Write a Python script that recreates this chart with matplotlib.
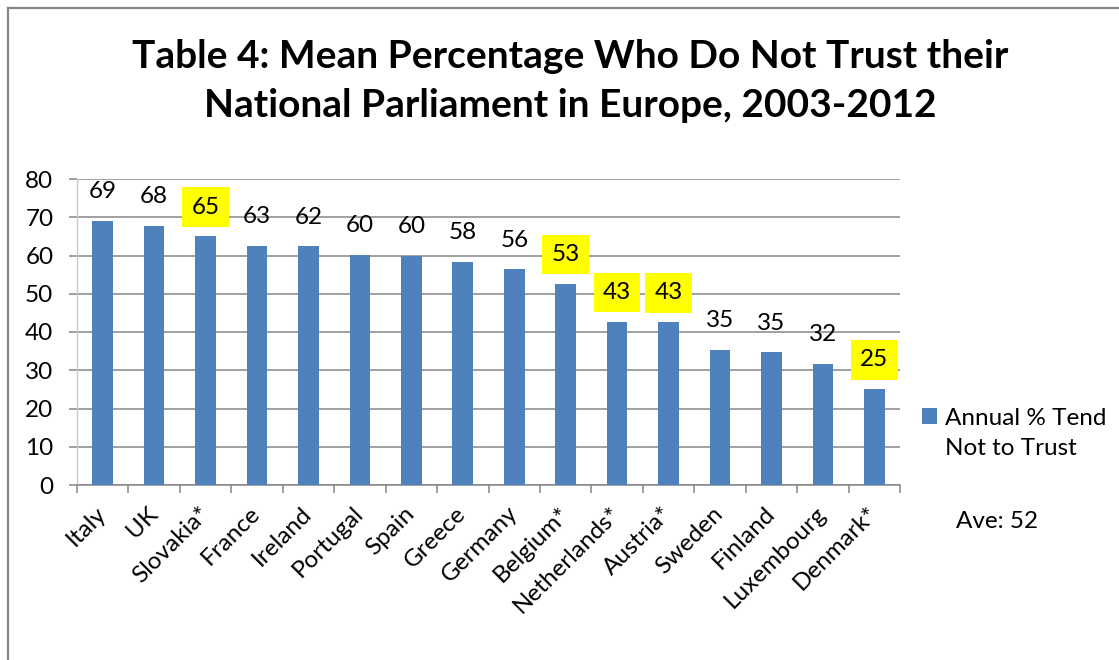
import matplotlib.pyplot as plt
import numpy as np
from matplotlib.lines import Line2D

# Mean share (%) who tend not to trust their national parliament, 2003-2012
countries = ["Italy", "UK", "Slovakia*", "France", "Ireland", "Portugal", "Spain",
             "Greece", "Germany", "Belgium*", "Netherlands*", "Austria*", "Sweden",
             "Finland", "Luxembourg", "Denmark*"]
values = [69.1, 67.8, 65.0, 62.6, 62.4, 60.2, 59.9, 58.4, 56.4, 52.6,
          42.7, 42.6, 35.3, 34.7, 31.6, 25.1]
highlighted = ["Slovakia*", "Belgium*", "Netherlands*", "Austria*", "Denmark*"]
average_label = "Ave: 52"
series_name = "Annual % Tend\nNot to Trust"
yticks = [0, 10, 20, 30, 40, 50, 60, 70, 80]
title = ("Table 4: Mean Percentage Who Do Not Trust their\n"
         "National Parliament in Europe, 2003-2012")

plt.rcParams['font.family'] = ['Lato', 'DejaVu Sans']

W, H = 1119, 660
fig = plt.figure(figsize=(W / 100, H / 100), dpi=100)
fig.patch.set_facecolor('white')

FS = 17.5

# plot area in pixel terms
left, right, top, bottom = 77, 900, 179, 485
ax = fig.add_axes([left / W, 1 - bottom / H, (right - left) / W, (bottom - top) / H])

bar_color = '#4F81BD'
grid_color = '#868686'
x = np.arange(len(countries))
bars = ax.bar(x, values, width=0.4, color=bar_color, zorder=3,
              label=series_name)

ax.set_xlim(-0.5, len(countries) - 0.5)
ax.set_ylim(0, 80)
ax.set_yticks(yticks)
ax.yaxis.grid(True, color=grid_color, linewidth=1.1, zorder=0)
ax.set_axisbelow(True)

for side in ['top', 'right']:
    ax.spines[side].set_visible(False)
ax.spines['left'].set_color('#C8C8C8')
ax.spines['left'].set_linewidth(1.0)
ax.spines['bottom'].set_color(grid_color)
ax.spines['bottom'].set_linewidth(1.1)

ax.tick_params(axis='y', length=6, width=1.1, color=grid_color, pad=11,
               labelsize=FS, labelcolor='black')

# category labels at centres, tick marks at category boundaries
ax.set_xticks(x)
ax.set_xticklabels(countries, rotation=45, ha='right', va='center',
                   rotation_mode='anchor', fontsize=FS)
ax.tick_params(axis='x', which='major', length=0, pad=18)
ax.set_xticks(np.arange(-0.5, len(countries)), minor=True)
ax.tick_params(axis='x', which='minor', length=6, width=1.1, color=grid_color,
               direction='out')

# value labels above each bar, highlighted ones on a yellow box
for xi, v, name in zip(x, values, countries):
    kw = {}
    if name in highlighted:
        kw['bbox'] = dict(boxstyle='square,pad=0.38', facecolor='#FFFF00',
                          edgecolor='none')
    ax.annotate(f"{v:.0f}", xy=(xi, v), xytext=(0, 21),
                textcoords='offset points', ha='center', va='center',
                fontsize=FS, color='black', annotation_clip=False, **kw)

# title
fig.text(570 / W, 1 - 81 / H, title, ha='center', va='center',
         fontsize=28, fontweight='bold', linespacing=1.5)

# legend (square aligned with the first line of the label) and average note
leg = fig.legend(handles=[bars], labels=[series_name], loc='upper left',
                 bbox_to_anchor=(910 / W, 1 - 396 / H), frameon=False,
                 fontsize=FS, handlelength=0.6, handleheight=0.6,
                 handletextpad=0.35, borderpad=0, labelspacing=0)
for t in leg.get_texts():
    t.set_linespacing(1.5)
for packer in leg._legend_handle_box.get_children():
    for row in packer.get_children():
        row.align = 'top'
fig.text(956 / W, 1 - 522 / H, average_label, ha='left', va='center',
         fontsize=FS)

# outer frame
frame_kw = dict(color='#868686', linewidth=1.6, transform=fig.transFigure)
fig.add_artist(Line2D([7.5 / W, 7.5 / W], [0, 1 - 8 / H], **frame_kw))
fig.add_artist(Line2D([7.5 / W, 1], [1 - 8 / H, 1 - 8 / H], **frame_kw))

fig.savefig('out.png', dpi=100)
